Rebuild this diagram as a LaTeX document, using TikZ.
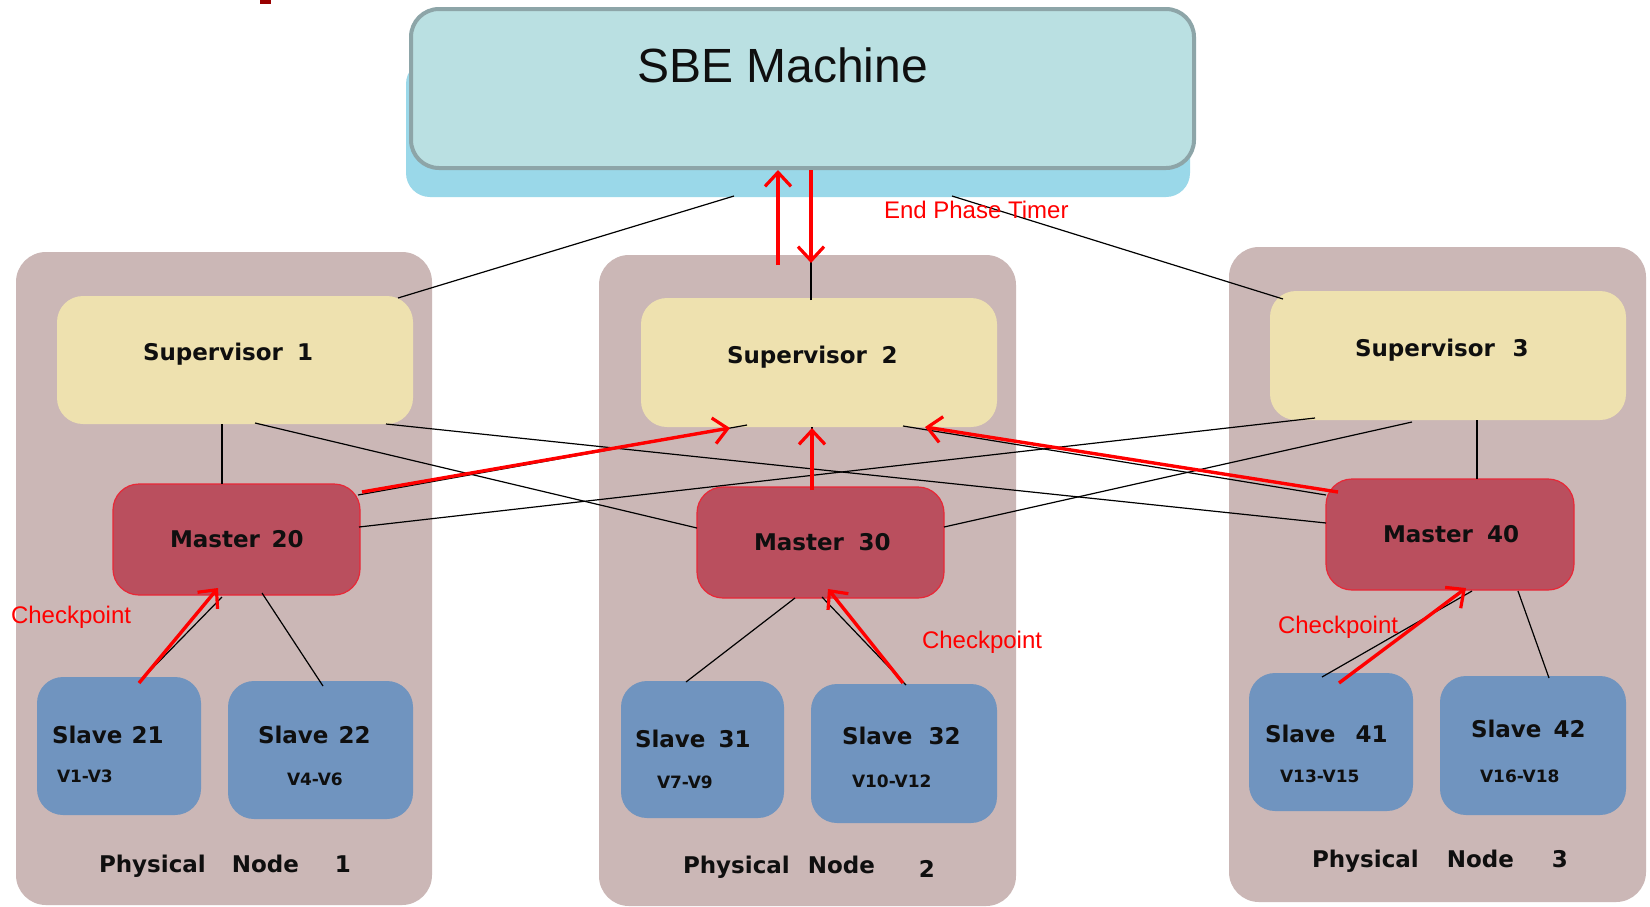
\documentclass[tikz,border=0pt]{standalone}
\usepackage{fontspec}
\setmainfont{Liberation Sans}
\newfontfamily\vfont{DejaVu Sans}
\usetikzlibrary{arrows.meta,calc}
\definecolor{sbefill}{RGB}{186,224,226}
\definecolor{sbeline}{RGB}{141,165,168}
\definecolor{sbeshade}{RGB}{154,216,233}
\definecolor{pnfill}{RGB}{203,183,182}
\definecolor{supfill}{RGB}{238,225,175}
\definecolor{mfill}{RGB}{186,79,94}
\definecolor{mline}{RGB}{232,40,55}
\definecolor{sfill}{RGB}{112,148,191}
\definecolor{arrred}{RGB}{255,0,0}
\definecolor{titlered}{RGB}{153,0,0}
\definecolor{txtblack}{RGB}{15,15,15}
\newcommand{\labfont}{\vfont\bfseries\fontsize{23}{23}\selectfont}
\newcommand{\vsmallfont}{\vfont\bfseries\fontsize{17}{17}\selectfont}
\tikzset{
  base box/.style={anchor=north west, inner sep=0pt, outer sep=0pt},
  pnbox/.style={base box, fill=pnfill, rounded corners=30pt},
  supbox/.style={base box, fill=supfill, rounded corners=26pt},
  masterbox/.style={base box, fill=mfill, draw=mline, line width=1.2pt, rounded corners=26pt},
  slavebox/.style={base box, fill=sfill, rounded corners=26pt},
  lbl/.style={anchor=base west, inner sep=0pt, outer sep=0pt, text=txtblack},
  redlbl/.style={anchor=base west, inner sep=0pt, outer sep=0pt, text=arrred, font=\fontsize{24}{24}\selectfont},
  conn/.style={draw=black, line width=1.2pt},
  redarrow/.style={draw=arrred, line width=3.4pt, -{Straight Barb[length=14pt,width=26pt,line width=3.2pt]}},
}
\begin{document}
\begin{tikzpicture}[x=1pt,y=-1pt]
\useasboundingbox (0,0) rectangle (1650,906);
\fill[white] (0,0) rectangle (1650,906);
% title fragment
\fill[titlered] (260,0) rectangle (271,4);

% physical nodes
\node[pnbox, minimum width=416pt, minimum height=653pt] (pn1) at (16,252) {};
\node[pnbox, minimum width=417pt, minimum height=651pt] (pn2) at (599,255) {};
\node[pnbox, minimum width=417pt, minimum height=655pt] (pn3) at (1229,247) {};

% SBE machine
\node[base box, fill=sbeshade, rounded corners=24pt, minimum width=784pt, minimum height=137pt] (sbeshadow) at (406,60) {};
\node[base box, fill=sbefill, draw=sbeline, line width=4pt, rounded corners=28pt, minimum width=783pt, minimum height=159pt] (sbe) at (411,9) {};

% supervisors
\node[supbox, minimum width=356pt, minimum height=128pt] (sup1) at (57,296) {};
\node[supbox, minimum width=356pt, minimum height=129pt] (sup2) at (641,298) {};
\node[supbox, minimum width=356pt, minimum height=129pt] (sup3) at (1270,291) {};

% masters
\node[masterbox, minimum width=247pt, minimum height=111pt] (m20) at (113,484) {};
\node[masterbox, minimum width=247pt, minimum height=111pt] (m30) at (697,487) {};
\node[masterbox, minimum width=248pt, minimum height=111pt] (m40) at (1326,479) {};

% slaves
\node[slavebox, minimum width=164pt, minimum height=138pt] (s21) at (37,677) {};
\node[slavebox, minimum width=185pt, minimum height=138pt] (s22) at (228,681) {};
\node[slavebox, minimum width=163pt, minimum height=137pt] (s31) at (621,681) {};
\node[slavebox, minimum width=186pt, minimum height=139pt] (s32) at (811,684) {};
\node[slavebox, minimum width=164pt, minimum height=138pt] (s41) at (1249,673) {};
\node[slavebox, minimum width=186pt, minimum height=139pt] (s42) at (1440,676) {};

% black connectors
\draw[conn] ($(sbeshadow.north west)+(328,136)$) -- ($(sup1.north west)+(341,2)$);
\draw[conn] ($(sbeshadow.north west)+(546,136)$) -- ($(sup3.north west)+(13,8)$);
\draw[conn] ($(sup2.north west)+(170,2)$) -- ($(sbe.south west)+(400,80)$);
\draw[conn] ($(sup1.north west)+(165,128)$) -- ($(m20.north west)+(109,0)$);
\draw[conn] ($(sup3.north west)+(207,129)$) -- ($(m40.north west)+(151,0)$);
\draw[conn] ($(sup1.north west)+(198,127)$) -- ($(m30.north west)+(0,41)$);
\draw[conn] ($(sup1.north west)+(329,128)$) -- ($(m40.north west)+(0,44)$);
\draw[conn] ($(m20.north west)+(245,11)$) -- ($(sup2.north west)+(106,127)$);
\draw[conn] ($(m20.north west)+(246,43)$) -- ($(sup3.north west)+(45,127)$);
\draw[conn] ($(m30.north west)+(247,40)$) -- ($(sup3.north west)+(142,131)$);
\draw[conn] ($(sup2.north west)+(262,128)$) -- ($(m40.north west)+(0,16)$);
\draw[conn] ($(m30.north west)+(115,0)$) -- ($(sup2.north west)+(171,129)$);
\draw[conn] ($(m20.north west)+(109,113)$) -- ($(s21.north west)+(102,5)$);
\draw[conn] ($(m20.north west)+(149,109)$) -- ($(s22.north west)+(95,5)$);
\draw[conn] ($(m30.north west)+(98,111)$) -- ($(s31.north west)+(65,1)$);
\draw[conn] ($(m30.north west)+(125,110)$) -- ($(s32.north west)+(95,1)$);
\draw[conn] ($(m40.north west)+(146,112)$) -- ($(s41.north west)+(73,4)$);
\draw[conn] ($(m40.north west)+(192,112)$) -- ($(s42.north west)+(109,2)$);

% red arrows
\draw[redarrow] ($(sup2.north west)+(137,-33)$) -- ($(sbe.south west)+(367,2)$);
\draw[redarrow] ($(sbe.south west)+(400,2)$) -- ($(sup2.north west)+(170,-35)$);
\draw[redarrow] ($(m20.north west)+(249,8)$) -- ($(sup2.north west)+(89,130)$);
\draw[redarrow] ($(m30.north west)+(115,3)$) -- ($(sup2.north west)+(171,130)$);
\draw[redarrow] ($(m40.north west)+(12,13)$) -- ($(sup2.north west)+(284,129)$);
\draw[redarrow] ($(s21.north west)+(102,6)$) -- ($(m20.north west)+(105,104)$);
\draw[redarrow] ($(s32.north west)+(92,-1)$) -- ($(m30.north west)+(131,102)$);
\draw[redarrow] ($(s41.north west)+(90,10)$) -- ($(m40.north west)+(140,109)$);

% texts
\node[lbl, font=\fontsize{48}{48}\selectfont] (tsbe) at (637,82) {SBE Machine};
\node[redlbl] (tend) at (884,218) {End Phase Timer};
\node[redlbl] (tcp1) at (11,623) {Checkpoint};
\node[redlbl] (tcp2) at (922,648) {Checkpoint};
\node[redlbl] (tcp3) at (1278,633) {Checkpoint};

\node[lbl, font=\labfont] (tsup1) at (143,360) {Supervisor\hspace{14pt}1};
\node[lbl, font=\labfont] (tsup2) at (727,363) {Supervisor\hspace{14.5pt}2};
\node[lbl, font=\labfont] (tsup3) at (1355,356) {Supervisor\hspace{17.5pt}3};

\node[lbl, font=\labfont] (tm20) at (170,547) {Master\hspace{11.5pt}20};
\node[lbl, font=\labfont] (tm30) at (754,550) {Master\hspace{14.5pt}30};
\node[lbl, font=\labfont] (tm40) at (1383,542) {Master\hspace{14pt}40};

\node[lbl, font=\labfont] (ts21) at (52,743) {Slave\hspace{9pt}21};
\node[lbl, font=\labfont] (ts22) at (258,743) {Slave\hspace{10pt}22};
\node[lbl, font=\labfont] (ts31) at (635,747) {Slave\hspace{13pt}31};
\node[lbl, font=\labfont] (ts32) at (842,744) {Slave\hspace{16pt}32};
\node[lbl, font=\labfont] (ts41) at (1265,742) {Slave\hspace{20pt}41};
\node[lbl, font=\labfont] (ts42) at (1471,737) {Slave\hspace{12pt}42};

\node[lbl, font=\vsmallfont] (tv21) at (57,782) {V1-V3};
\node[lbl, font=\vsmallfont] (tv22) at (287,785) {V4-V6};
\node[lbl, font=\vsmallfont] (tv31) at (657,788) {V7-V9};
\node[lbl, font=\vsmallfont] (tv32) at (852,787) {V10-V12};
\node[lbl, font=\vsmallfont] (tv41) at (1280,782) {V13-V15};
\node[lbl, font=\vsmallfont] (tv42) at (1480,782) {V16-V18};

\node[lbl, font=\labfont] (tpn1) at (99,872) {Physical\hspace{26pt}Node\hspace{36pt}1};
\node[lbl, font=\labfont] (tpn2) at (683,873) {Physical\hspace{18pt}Node\hspace{44pt}\raisebox{-4pt}{2}};
\node[lbl, font=\labfont] (tpn3) at (1312,867) {Physical\hspace{28pt}Node\hspace{38pt}3};
\end{tikzpicture}
\end{document}
